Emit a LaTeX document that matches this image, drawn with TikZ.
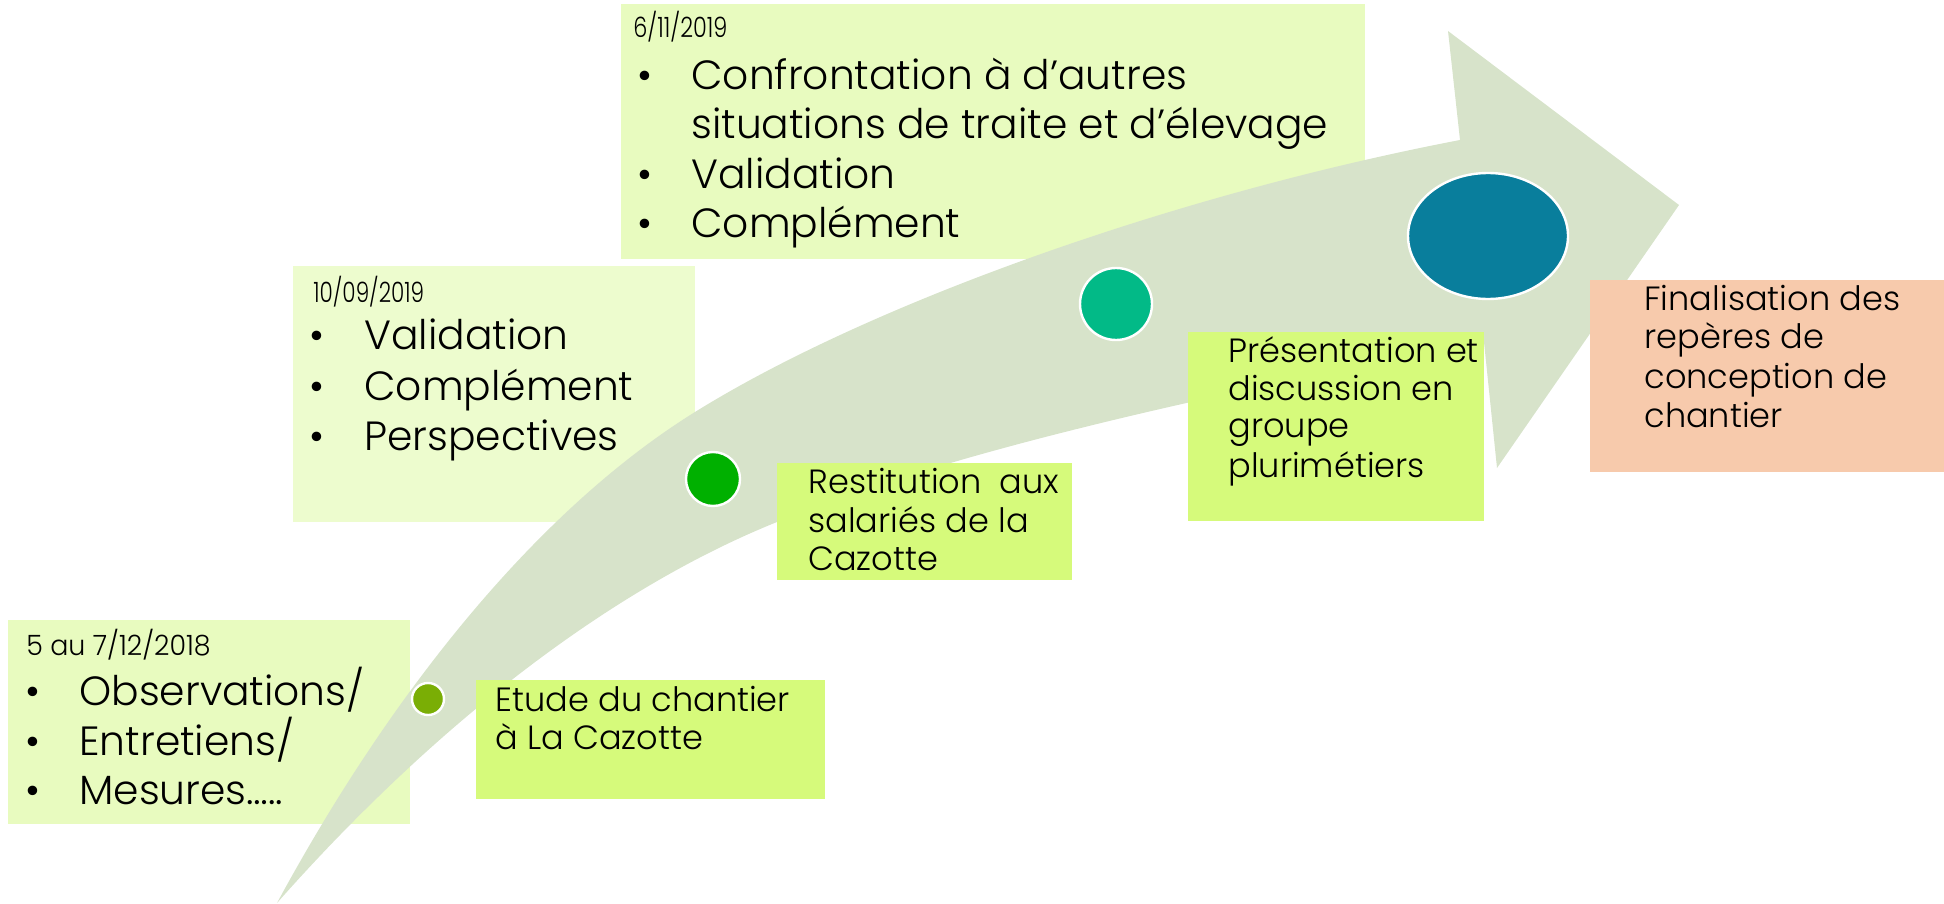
\documentclass[tikz,border=0pt]{standalone}
\usepackage{graphicx}
\usepackage{fontspec}
\setmainfont{Poppins}[UprightFont=* Light]
\definecolor{lightA}{HTML}{E8FBBF}
\definecolor{lightB}{HTML}{EDFCCE}
\definecolor{bright}{HTML}{D6FA7B}
\definecolor{peach}{HTML}{F7CAAC}
\definecolor{arrowc}{HTML}{D7E3CA}
\definecolor{cone}{HTML}{7AAE05}
\definecolor{ctwo}{HTML}{00B000}
\definecolor{cthree}{HTML}{02BA87}
\definecolor{cfour}{HTML}{097E9C}
\newcommand{\narrow}[2]{\scalebox{#1}[1]{#2}}
\begin{document}
\begin{tikzpicture}[x=0.5pt,y=-0.5pt,
  txt/.style={anchor=base west, inner sep=0pt, text=black},
  datefont/.style={txt, font=\fontsize{14}{16}\selectfont},
  bigfont/.style={txt, font=\fontsize{20.4}{24}\selectfont},
  smallfont/.style={txt, font=\fontsize{16.8}{19}\selectfont},
  bul/.style={anchor=base, inner sep=0pt, text=black, font=\fontsize{20.4}{24}\selectfont},
  dot/.style={draw=white, line width=1.2pt}]
\useasboundingbox (0,0) rectangle (1944,904);

% light boxes (behind the arrow)
\fill[lightA] (621,4) rectangle (1365,259);
\fill[lightA] (8,620) rectangle (410,824);
\fill[lightB] (293,266) rectangle (695,522);

% box 1 text
\node[datefont] (d1) at (26,655) {\narrow{0.96}{5 au 7/12/2018}};
\node[bul] (b1a) at (33,705) {\textbullet};
\node[bul] (b1b) at (33,755) {\textbullet};
\node[bul] (b1c) at (33,804) {\textbullet};
\node[bigfont] (t1a) at (79,705) {Observations/};
\node[bigfont] (t1b) at (79,755) {Entretiens/};
\node[bigfont] (t1c) at (79,804) {Mesures…..};

% box 3 text
\node[datefont] (d3) at (313,302) {\narrow{0.77}{10/09/2019}};
\node[bul] (b3a) at (317,349) {\textbullet};
\node[bul] (b3b) at (317,400) {\textbullet};
\node[bul] (b3c) at (317,450) {\textbullet};
\node[bigfont] (t3a) at (364,349) {Validation};
\node[bigfont] (t3b) at (364,400) {Complément};
\node[bigfont] (t3c) at (364,450) {Perspectives};

% box 5 text
\node[datefont] (d5) at (633,38) {\narrow{0.8}{6/11/2019}};
\node[bul] (b5a) at (645,90) {\textbullet};
\node[bul] (b5b) at (645,188) {\textbullet};
\node[bul] (b5c) at (645,237) {\textbullet};
\node[bigfont] (t5a) at (691,90) {Confrontation à d’autres};
\node[bigfont] (t5b) at (691,139) {situations de traite et d’élevage};
\node[bigfont] (t5c) at (691,188) {Validation};
\node[bigfont] (t5d) at (691,237) {Complément};

% curved arrow
\fill[arrowc]
  (277,903) .. controls (400,676) and (547,504) .. (695,412)
  .. controls (872,302) and (1178,194) .. (1460,140)
  -- (1448,31) -- (1679,205) -- (1497,468) -- (1484,342)
  .. controls (1141,407) and (929,461) .. (777,522)
  .. controls (613,588) and (438,721) .. (277,903)
  -- cycle;

% milestones
\filldraw[dot, fill=cone] (428,699) circle[radius=16];
\filldraw[dot, fill=ctwo] (713,479) circle[radius=27];
\filldraw[dot, fill=cthree] (1116,304) circle[radius=36];
\filldraw[dot, fill=cfour] (1488,236) ellipse[x radius=80, y radius=63];

% bright boxes (in front of the arrow)
\fill[bright] (476,680) rectangle (825,799);
\fill[bright] (777,463) rectangle (1072,580);
\fill[bright] (1188,332) rectangle (1484,521);
\fill[peach] (1590,280) rectangle (1944,472);

\node[smallfont] (t2a) at (495,711) {Etude du chantier};
\node[smallfont] (t2b) at (495,749) {à La Cazotte};

\node[smallfont] (t4a) at (808,493) {Restitution\ \ aux};
\node[smallfont] (t4b) at (808,532) {salariés de la};
\node[smallfont] (t4c) at (808,570) {Cazotte};

\node[smallfont] (t6a) at (1228,362) {Présentation et};
\node[smallfont] (t6b) at (1228,400) {discussion en};
\node[smallfont] (t6c) at (1228,437) {groupe};
\node[smallfont] (t6d) at (1228,477) {plurimétiers};

\node[smallfont] (t7a) at (1644,310) {Finalisation des};
\node[smallfont] (t7b) at (1644,348) {repères de};
\node[smallfont] (t7c) at (1644,388) {conception de};
\node[smallfont] (t7d) at (1644,427) {chantier};
\end{tikzpicture}
\end{document}
